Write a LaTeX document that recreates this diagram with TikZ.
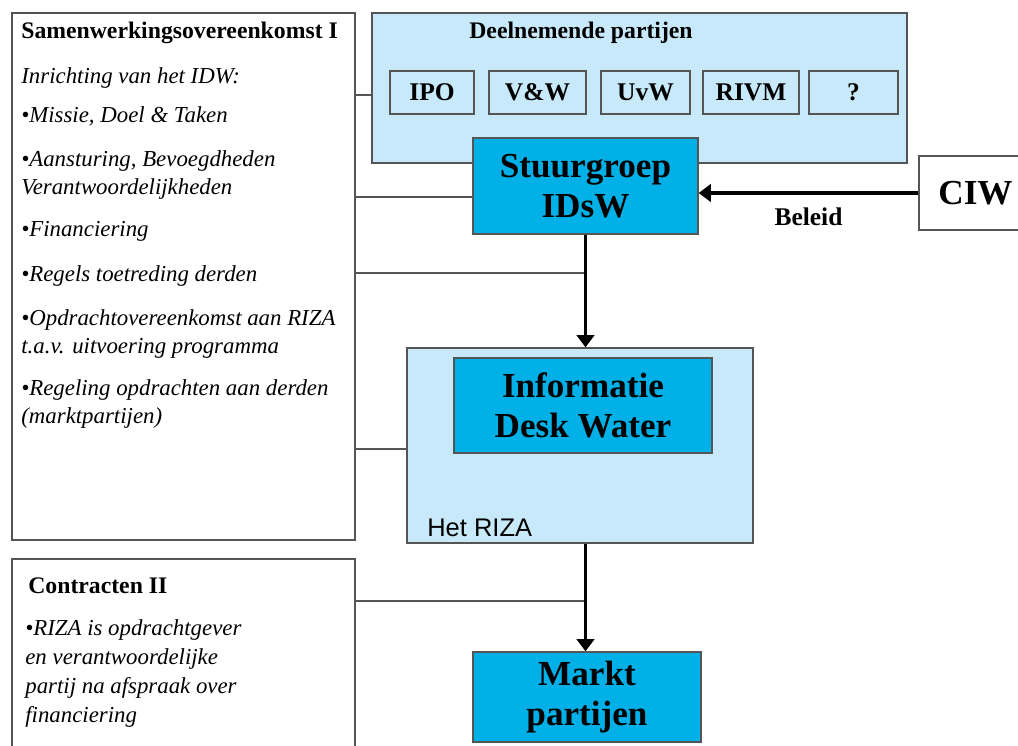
\documentclass[tikz,border=0pt]{standalone}
\usepackage{fontspec}
\setmainfont{Liberation Serif}
\newfontfamily\rizafont{Liberation Sans}
\usepackage{tikz}
\usetikzlibrary{positioning,arrows.meta}
\definecolor{lichtblauw}{RGB}{199,233,249}
\definecolor{waterblauw}{RGB}{0,176,230}
\definecolor{randgrijs}{RGB}{85,85,85}

\begin{document}
\begin{tikzpicture}[x=0.02cm, y=-0.02cm,
	frame/.style={rectangle, draw=randgrijs, line width=0.8pt, fill=white, inner sep=0pt},
	light/.style={frame, fill=lichtblauw},
	dark/.style={frame, fill=waterblauw, align=center,
		font=\fontsize{20}{23}\selectfont\bfseries},
	party/.style={light, minimum height=0.86cm,
		font=\fontsize{14.5}{16}\selectfont\bfseries},
	head/.style={anchor=base west, inner sep=0pt,
		font=\fontsize{13.5}{16}\selectfont\bfseries},
	item/.style={anchor=base west, inner sep=0pt, align=left,
		font=\fontsize{13}{16}\selectfont\itshape},
	link/.style={draw=randgrijs, line width=0.8pt},
	flow/.style={draw=black, line width=1.8pt, -{Triangle[length=7pt,width=10pt]}}
	]
	\useasboundingbox (0,0) rectangle (1018,746);
	\clip (0,0) rectangle (1018,746);

	% afspraken links (meerregelige teksten: basislijn van de laatste regel)
	\node (sam) [frame, minimum width=6.86cm, minimum height=10.54cm] at (183.5,276.5) {};
	\node (sam0) [head] at (21,39) {Samenwerkingsovereenkomst I};
	\node (sam1) [item] at (21,84) {Inrichting van het IDW:};
	\node (sam2) [item] at (21,123) {•Missie, Doel \& Taken};
	\node (sam3) [item] at (21,195) {•Aansturing, Bevoegdheden\\Verantwoordelijkheden};
	\node (sam4) [item] at (21,237) {•Financiering};
	\node (sam5) [item] at (21,282) {•Regels toetreding derden};
	\node (sam6) [item] at (21,354) {•Opdrachtovereenkomst aan RIZA\\t.a.v. uitvoering programma};
	\node (sam7) [item] at (21,424) {•Regeling opdrachten aan derden\\(marktpartijen)};

	\node (con) [frame, minimum width=6.86cm, minimum height=4.42cm] at (183.5,669.5) {};
	\node (con0) [head] at (28,593) {Contracten II};
	\node (con1) [item, font=\fontsize{13}{16.5}\selectfont\itshape] at (25,722)
		{•RIZA is opdrachtgever\\en verantwoordelijke\\partij na afspraak over\\financiering};

	% deelnemers en stuurgroep
	\node (deel) [light, minimum width=10.7cm, minimum height=3cm] at (639.5,88) {};
	\node (deel0) [font=\fontsize{13.5}{16}\selectfont\bfseries] at (581,33) {Deelnemende partijen};
	\node (ipo) [party, minimum width=1.68cm] at (432,92.5) {IPO};
	\node (vw) [party, minimum width=1.94cm] at (537.5,92.5) {V\&W};
	\node (uvw) [party, minimum width=1.78cm] at (645.5,92.5) {UvW};
	\node (rivm) [party, minimum width=1.92cm] at (751,92.5) {RIVM};
	\node (unk) [party, minimum width=1.78cm] at (853.5,92.5) {?};

	\node (stuur) [dark, minimum width=4.5cm, minimum height=1.92cm] at (585.5,186) {Stuurgroep\\IDsW};
	\node (ciw) [frame, minimum width=2.26cm, minimum height=1.48cm,
		font=\fontsize{20}{23}\selectfont\bfseries] at (975.5,193) {CIW};

	% uitvoering
	\node (riza) [light, minimum width=6.92cm, minimum height=3.9cm] at (580,445.5) {};
	\node (idw) [dark, minimum width=5.16cm, minimum height=1.9cm] at (583,405.5) {Informatie\\Desk Water};
	\node (riza0) [anchor=base west, inner sep=0pt, font=\fontsize{14.5}{16}\selectfont\rizafont] at (427,537) {Het RIZA};
	\node (markt) [dark, minimum width=4.56cm, minimum height=1.8cm] at (587,697) {Markt\\partijen};

	% verbindingen
	\coordinate (lk1) at (sam.east |- 0,95);
	\coordinate (lk2) at (sam.east |- 0,197);
	\coordinate (lk3) at (sam.east |- 0,273);
	\coordinate (lk4) at (sam.east |- 0,449);
	\coordinate (lk5) at (con.east |- 0,601);
	\draw[link] (lk1) -- (lk1 -| deel.west);
	\draw[link] (lk2) -- (lk2 -| stuur.west);
	\draw[link] (lk3) -- (lk3 -| stuur.south);
	\draw[link] (lk4) -- (lk4 -| riza.west);
	\draw[link] (lk5) -- (lk5 -| stuur.south);

	\draw[flow] (ciw.west) -- (ciw.west -| stuur.east)
		node [pos=0.5, below=4pt, font=\fontsize{14.5}{16}\selectfont\bfseries] (beleid) {Beleid};
	\draw[flow] (stuur.south) -- (stuur.south |- riza.north);
	\draw[flow] (riza.south -| stuur.south) -- (stuur.south |- markt.north);
\end{tikzpicture}
\end{document}
